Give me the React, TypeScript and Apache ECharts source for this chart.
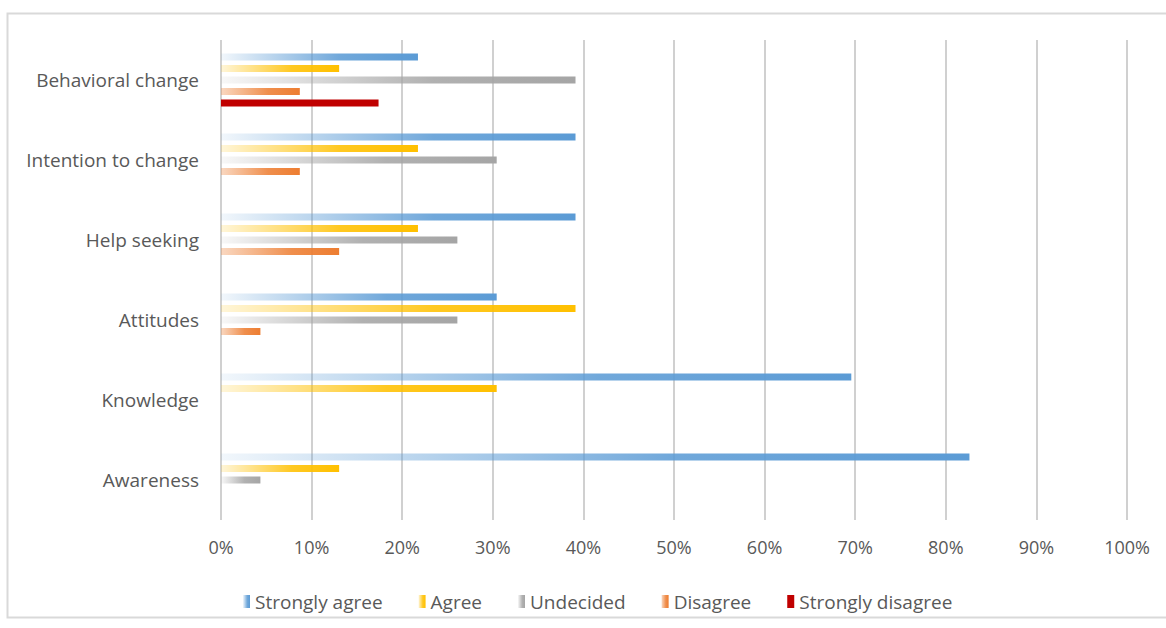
import React, { useEffect, useRef } from "react";
import * as echarts from "echarts";

const categories = ["Awareness", "Knowledge", "Attitudes", "Help seeking", "Intention to change", "Behavioral change"];
const seriesNames = ["Strongly agree", "Agree", "Undecided", "Disagree", "Strongly disagree"];
const stronglyAgree = [82.61, 69.57, 30.43, 39.13, 39.13, 21.74];
const agree = [13.04, 30.43, 39.13, 21.74, 21.74, 13.04];
const undecided = [4.35, 0, 26.09, 26.09, 30.43, 39.13];
const disagree = [0, 0, 4.35, 13.04, 8.7, 8.7];
const stronglyDisagree = [0, 0, 0, 0, 0, 17.39];
const xTicks = [0, 10, 20, 30, 40, 50, 60, 70, 80, 90, 100];

const colors = ["#5B9BD5", "#FFC000", "#A5A5A5", "#ED7D31", "#C00000"];
const midColors = ["#5B9BD5dd", "#FFC000dd", "#A5A5A5dd", "#ED7D31dd", "#C00000"];
const startColors = ["rgba(91,155,213,0.08)", "rgba(255,192,0,0.15)", "rgba(165,165,165,0.08)", "rgba(237,125,49,0.3)", "#C00000"];
const values = [stronglyAgree, agree, undecided, disagree, stronglyDisagree];

export default function App() {
  const ref = useRef<HTMLDivElement>(null);
  useEffect(() => {
    const chart = echarts.init(ref.current!, null, { renderer: "svg" });
    const font = "'Open Sans', sans-serif";
    chart.setOption({
      animation: false,
      backgroundColor: "#fff",
      graphic: [
        { type: "rect", shape: { x: 7.5, y: 13.5, width: 1170, height: 604 }, style: { fill: "none", stroke: "#d9d9d9", lineWidth: 2 }, silent: true },
      ],
      legend: {
        data: seriesNames,
        left: 238,
        top: 587,
        itemWidth: 7,
        itemHeight: 13,
        itemGap: 36,
        icon: "rect",
        textStyle: { color: "#595959", fontSize: 19, fontFamily: font },
      },
      grid: { left: 221, right: 39, top: 40, bottom: 108, containLabel: false },
      xAxis: {
        type: "value",
        min: 0,
        max: 100,
        interval: 10,
        axisLine: { show: false },
        axisTick: { show: false },
        axisLabel: { formatter: (v: number) => (xTicks.includes(v) ? v + "%" : ""), color: "#595959", fontSize: 18, fontFamily: font, margin: 18 },
        splitLine: { show: true, lineStyle: { color: "#d0d0d0", width: 2 } },
      },
      yAxis: {
        type: "category",
        data: categories,
        axisLine: { show: false },
        axisTick: { show: false },
        axisLabel: { color: "#595959", fontSize: 19, fontFamily: font, margin: 22 },
      },
      series: seriesNames.map((name, i) => ({
        name,
        type: "bar",
        data: values[i],
        barWidth: 7,
        barGap: "64%",
        itemStyle: {
          color: new echarts.graphic.LinearGradient(0, 0, 1, 0, [
            { offset: 0, color: startColors[i] },
            { offset: 0.6, color: midColors[i] },
            { offset: 1, color: colors[i] },
          ]),
        },
      })),
    });
    return () => chart.dispose();
  }, []);
  return <div ref={ref} style={{ width: 1166, height: 628, position: "absolute", left: 0, top: 0 }} />;
}
